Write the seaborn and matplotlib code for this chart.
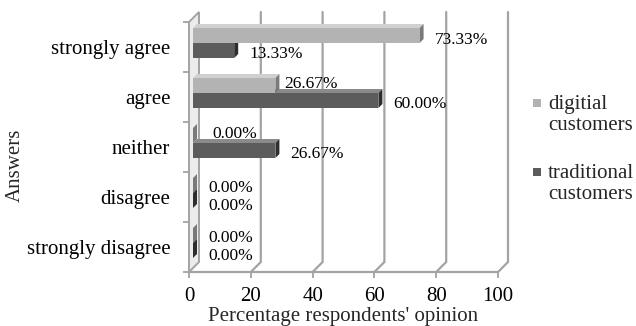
import numpy as np
import pandas as pd
import matplotlib
matplotlib.use("Agg")
import matplotlib.pyplot as plt
import seaborn as sns
from matplotlib.patches import Polygon, Rectangle
from matplotlib.lines import Line2D
from matplotlib.transforms import Affine2D, IdentityTransform

# Survey answers and the share of respondents (%) for each customer group
answers = ["strongly agree", "agree", "neither", "disagree", "strongly disagree"]
digital = [73.33, 26.67, 0.00, 0.00, 0.00]
traditional = [13.33, 60.00, 26.67, 0.00, 0.00]
series_names = ["digitial customers", "traditional customers"]
legend_labels = ["digitial\ncustomers", "traditional\ncustomers"]
x_ticks = [0, 20, 40, 60, 80, 100]

df = pd.DataFrame({
    "answer": answers * 2,
    "pct": digital + traditional,
    "series": [series_names[0]] * len(answers) + [series_names[1]] * len(answers),
})

sns.set_theme(style="white")
plt.rcParams["font.family"] = ["Liberation Serif", "DejaVu Serif"]

LIGHT = "#b3b3b3"
DARK = "#5c5c5c"
LIGHT_SIDE = "#7a7a7a"
DARK_SIDE = "#2e2e2e"
LIGHT_TOP = "#d0d0d0"
DARK_TOP = "#8a8a8a"
GRID = "#a3a3a3"

W, H = 636, 326
X0, X1, YT, YB = 189, 498, 22, 272      # front plane of the plot box, in pixels
DEPTH = 10                              # 3-D depth of the back wall, pixels
BAR_SHIFT = 4                           # bars sit a little behind the front plane
BAR_DEPTH = 4

fig = plt.figure(figsize=(W / 100, H / 100), dpi=100)
ax = fig.add_axes([X0 / W, (H - YB) / H, (X1 - X0) / W, (YB - YT) / H])

sns.barplot(data=df, x="pct", y="answer", hue="series", orient="h",
            order=answers, hue_order=series_names, palette=[LIGHT, DARK],
            width=0.6, saturation=1, linewidth=0, legend=False, ax=ax)

ax.set_xlim(0, 100)
ax.set_ylim(len(answers) - 0.5, -0.5)
for s in ax.spines.values():
    s.set_visible(False)
ax.set_xlabel("")
ax.set_ylabel("")

# ticks
ax.set_xticks(x_ticks)
ax.set_xticklabels([str(t) for t in x_ticks])
ax.tick_params(axis="x", length=4.5, width=1.3, color=GRID, pad=6.5, labelsize=15,
               labelcolor="black", bottom=True)
ax.set_yticks(range(len(answers)))
ax.set_yticklabels(answers)
ax.set_yticks(np.arange(-0.5, len(answers), 1.0), minor=True)
ax.tick_params(axis="y", which="major", length=0, pad=13.5, labelsize=15,
               labelcolor="black", left=True)
ax.tick_params(axis="y", which="minor", length=4.5, width=1.3, color=GRID, left=True)

tr = ax.transData
ident = IdentityTransform()


def disp(x, y):
    return np.array(tr.transform((x, y)))


# back wall gridlines and their slant down to the floor front edge
top_y = disp(0, -0.5)[1]
for v in x_ticks[1:]:
    fx, fy = disp(v, len(answers) - 0.5)
    bx, by = fx + DEPTH, fy + DEPTH
    ax.add_artist(Line2D([fx, bx, bx], [fy, by, top_y + DEPTH], color=GRID, lw=1.6,
                         transform=ident, clip_on=False, zorder=1,
                         solid_joinstyle="miter"))

# floor front edge
fx0, fy0 = disp(0, len(answers) - 0.5)
fx1, _ = disp(100, len(answers) - 0.5)
ax.add_artist(Line2D([fx0, fx1], [fy0, fy0], color=GRID, lw=1.6,
                     transform=ident, clip_on=False, zorder=1))

# left side wall
wall = Polygon([[fx0, fy0], [fx0, top_y], [fx0 + DEPTH, top_y + DEPTH],
                [fx0 + DEPTH, fy0 + DEPTH], [fx0, fy0]],
               closed=True, facecolor="#ececec", edgecolor=GRID, lw=1.4,
               transform=ident, clip_on=False, zorder=1.5)
ax.add_artist(wall)

# bars: shift behind the front plane, add top and side faces
shift = Affine2D().translate(BAR_SHIFT, BAR_SHIFT)
side_cols = [LIGHT_SIDE, DARK_SIDE]
top_cols = [LIGHT_TOP, DARK_TOP]
# label offsets (pixels) for labels that would otherwise crowd
nudges = {(1, 0): (-6, 6), (2, 0): (4, 6),
          (3, 0): (0, 1.5), (3, 1): (0, -1.5),
          (4, 0): (0, 1.5), (4, 1): (0, -1.5)}
for si, cont in enumerate(ax.containers):
    for ci, bar in enumerate(cont):
        x, y, w, h = bar.get_x(), bar.get_y(), bar.get_width(), bar.get_height()
        bar.set_transform(tr + shift)
        bar.set_clip_on(False)
        bar.set_zorder(3)
        s0 = disp(x, y) + BAR_SHIFT           # start, top edge
        e_top = disp(x + w, y) + BAR_SHIFT
        e_bot = disp(x + w, y + h) + BAR_SHIFT
        d = np.array([BAR_DEPTH, BAR_DEPTH])
        ax.add_artist(Polygon([s0, e_top, e_top + d, s0 + d], closed=True,
                              facecolor=top_cols[si], lw=0, transform=ident,
                              clip_on=False, zorder=2))
        ax.add_artist(Polygon([e_bot, e_top, e_top + d, e_bot + d], closed=True,
                              facecolor=side_cols[si], lw=0, transform=ident,
                              clip_on=False, zorder=2.5))
        val = digital[ci] if si == 0 else traditional[ci]
        ndx, ndy = nudges.get((ci, si), (0, 0))
        ax.annotate(f"{val:.2f}%", xy=(val, y + h / 2), xytext=(19 + ndx, 0 + ndy),
                    textcoords="offset pixels", ha="left", va="center",
                    fontsize=12.5, color="black", zorder=5, annotation_clip=False)

# axis titles
fig.text(15.5 / W, 1 - 165 / H, "Answers", rotation=90, ha="center", va="center",
         fontsize=15)
fig.text((X0 + X1) / 2 / W, 1 - 321 / H, "Percentage respondents' opinion",
         ha="center", va="baseline", fontsize=15)

# legend
leg_cols = [LIGHT, DARK]
for lab, col, cy in zip(legend_labels, leg_cols, [103, 172]):
    fig.patches.append(Rectangle((533 / W, 1 - (cy + 4) / H), 8 / W, 8 / H,
                                 facecolor=col, edgecolor="none",
                                 transform=fig.transFigure, figure=fig))
    fig.text(548 / W, 1 - (cy + 12) / H, lab, ha="left", va="center",
             fontsize=15, linespacing=1.15)

fig.savefig("out.png", dpi=100)
